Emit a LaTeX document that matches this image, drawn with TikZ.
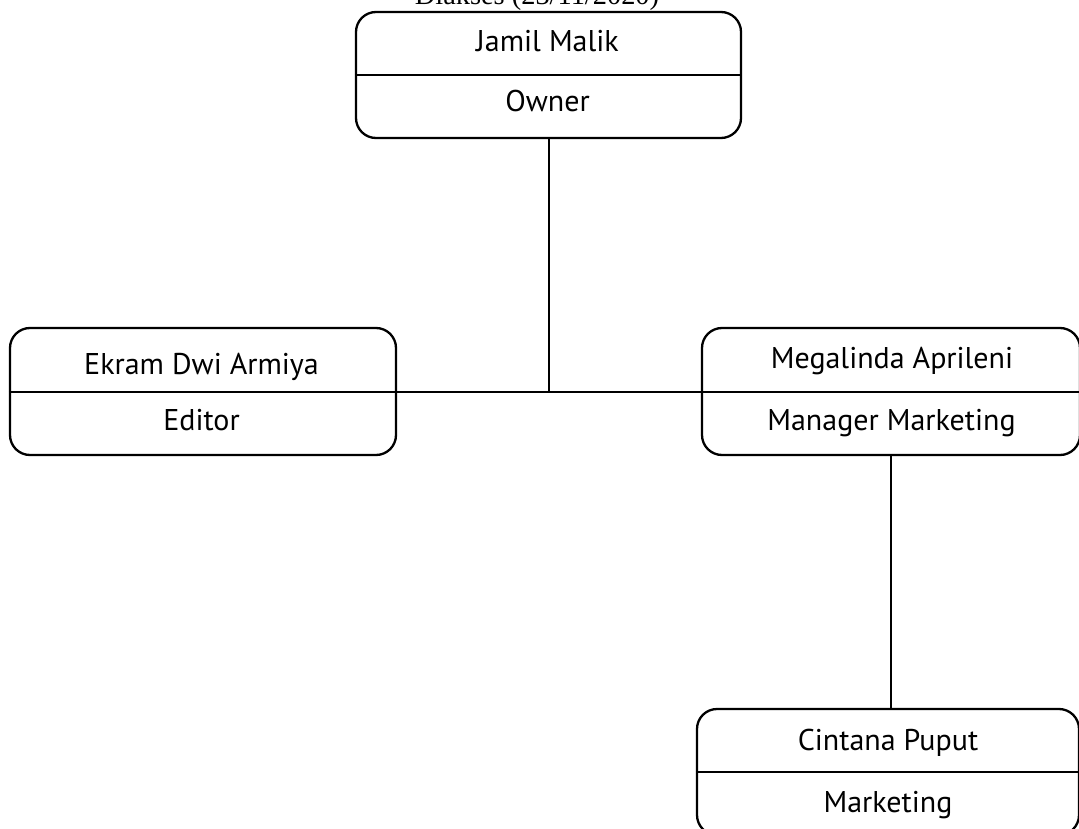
\documentclass[tikz,border=0pt]{standalone}
\usepackage{fontspec}
\setmainfont{Liberation Serif}
\newfontfamily\boxfont{PT Sans}
\begin{document}
\begin{tikzpicture}[x=1pt,y=-1pt,
  orgbox/.style={draw, line width=2.3pt, rounded corners=20pt, inner sep=0pt},
  lbl/.style={font=\boxfont\fontsize{30}{36}\selectfont, anchor=base, inner sep=0pt},
  conn/.style={line width=2pt}]
\useasboundingbox (0,0) rectangle (1079,829);
\node[font=\fontsize{28.4}{34}\selectfont, anchor=base, inner sep=0pt] (title) at (537,5) {Diakses (23/11/2020)};
% boxes
\node[orgbox, minimum width=385pt, minimum height=126pt] (jm) at (548.5,75) {};
\node[orgbox, minimum width=386pt, minimum height=127pt] (ek) at (203,391.5) {};
\node[orgbox, minimum width=378pt, minimum height=127pt] (mg) at (891,391.5) {};
\node[orgbox, minimum width=382pt, minimum height=126pt] (cp) at (888,772) {};
% dividers
\draw[conn] (jm.west) -- (jm.east);
\draw[conn] (ek.west) -- (ek.east);
\draw[conn] (mg.west) -- (mg.east);
\draw[conn] (cp.west) -- (cp.east);
% labels
\node[lbl] (jmn) at (547.5,52) {Jamil Malik};
\node[lbl] (jmr) at (547.5,112) {Owner};
\node[lbl] (ekn) at (201.5,374) {Ekram Dwi Armiya};
\node[lbl] (ekr) at (201.5,430) {Editor};
\node[lbl] (mgn) at (892,368) {Megalinda Aprileni};
\node[lbl] (mgr) at (891.5,430) {Manager Marketing};
\node[lbl] (cpn) at (888,750) {Cintana Puput};
\node[lbl] (cpr) at (888,812) {Marketing};
% connectors
\draw[conn] (jm.south) -- (jm.south |- ek.east);
\draw[conn] (ek.east) -- (mg.west);
\draw[conn] (mg.south) -- (mg.south |- cp.north);
\end{tikzpicture}
\end{document}
